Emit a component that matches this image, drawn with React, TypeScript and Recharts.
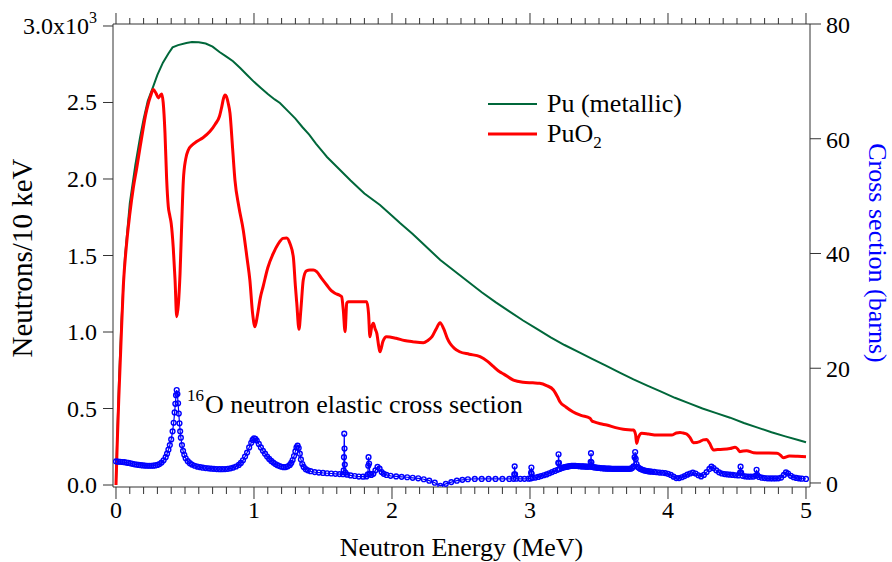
import { ComposedChart, Line, XAxis, YAxis, Legend, ReferenceDot, Label } from 'recharts'

const GREEN = '#00673a'
const RED = '#ff0000'
const BLUE = '#0000ff'
const AXIS = '#333'
const FONT = '"Liberation Serif", "Times New Roman", serif'

// Pu (metallic) spectrum, [MeV, neutrons / 10 keV]
const metallic: [number, number][] = [
  [0, 30], [0.01, 350], [0.022, 690], [0.04, 1080], [0.065, 1490], [0.1, 1840], [0.14, 2090],
  [0.174, 2270], [0.2, 2390], [0.23, 2510], [0.268, 2600], [0.3, 2680], [0.34, 2760], [0.38, 2820],
  [0.41, 2860], [0.45, 2875], [0.51, 2889], [0.55, 2895], [0.6, 2893], [0.65, 2885], [0.7, 2865],
  [0.75, 2830], [0.8, 2800], [0.848, 2770], [0.9, 2725], [0.95, 2680], [1.0, 2635], [1.05, 2595],
  [1.1, 2555], [1.15, 2520], [1.188, 2497], [1.25, 2440], [1.3, 2395], [1.35, 2340], [1.4, 2290],
  [1.45, 2230], [1.5, 2175], [1.529, 2144], [1.6, 2080], [1.7, 1990], [1.8, 1905], [1.913, 1830],
  [2.0, 1760], [2.058, 1712], [2.15, 1640], [2.25, 1555], [2.35, 1471], [2.45, 1400], [2.55, 1330],
  [2.65, 1260], [2.75, 1195], [2.85, 1135], [2.95, 1075], [3.05, 1020], [3.15, 965], [3.25, 915],
  [3.35, 870], [3.45, 825], [3.55, 780], [3.65, 735], [3.75, 690], [3.85, 650], [3.95, 610],
  [4.05, 570], [4.15, 535], [4.25, 500], [4.35, 470], [4.45, 440], [4.55, 405], [4.65, 375],
  [4.75, 345], [4.85, 318], [4.95, 292], [5.0, 280],
]

// PuO2 spectrum
const oxide: [number, number][] = [
  [0, 0], [0.01, 300], [0.02, 560], [0.035, 900], [0.053, 1300], [0.075, 1560], [0.1, 1770],
  [0.125, 1940], [0.15, 2070], [0.175, 2210], [0.197, 2330], [0.215, 2420], [0.233, 2490],
  [0.25, 2540], [0.27, 2585], [0.29, 2560], [0.307, 2530], [0.32, 2545], [0.331, 2556],
  [0.342, 2500], [0.355, 2300], [0.367, 2000], [0.379, 1820], [0.39, 1760], [0.4, 1710],
  [0.415, 1550], [0.428, 1340], [0.44, 1100], [0.452, 1180], [0.464, 1380], [0.476, 1700],
  [0.488, 1990], [0.505, 2130], [0.524, 2190], [0.55, 2220], [0.585, 2245], [0.63, 2270],
  [0.68, 2310], [0.72, 2360], [0.75, 2410], [0.766, 2470], [0.78, 2530], [0.79, 2549],
  [0.8, 2540], [0.812, 2500], [0.826, 2430], [0.845, 2200], [0.862, 1993], [0.89, 1820],
  [0.922, 1667], [0.95, 1480], [0.97, 1340], [0.99, 1120], [1.007, 1035], [1.025, 1110],
  [1.045, 1220], [1.067, 1300], [1.1, 1420], [1.14, 1514], [1.175, 1575], [1.21, 1612],
  [1.237, 1615], [1.26, 1580], [1.285, 1490], [1.3, 1300], [1.31, 1188], [1.326, 1018],
  [1.34, 1150], [1.357, 1340], [1.38, 1400], [1.405, 1405], [1.43, 1405], [1.454, 1394],
  [1.49, 1350], [1.527, 1307], [1.56, 1270], [1.587, 1253], [1.62, 1240], [1.635, 1231],
  [1.647, 1144], [1.66, 1002], [1.672, 1188], [1.683, 1198], [1.75, 1198], [1.817, 1198],
  [1.83, 1122], [1.84, 969], [1.852, 1030], [1.865, 1057], [1.878, 1020], [1.89, 991],
  [1.905, 900], [1.913, 871], [1.935, 940], [1.96, 969], [2.03, 959], [2.09, 945], [2.15, 937],
  [2.227, 930], [2.26, 945], [2.29, 969], [2.32, 1020], [2.348, 1061], [2.375, 1020], [2.4, 960],
  [2.42, 926], [2.45, 895], [2.49, 871], [2.56, 855], [2.638, 839], [2.69, 810], [2.734, 775],
  [2.78, 740], [2.81, 725], [2.88, 686], [2.95, 672], [3.02, 668], [3.07, 665], [3.12, 650],
  [3.17, 621], [3.2, 575], [3.217, 544], [3.26, 510], [3.31, 479], [3.37, 455], [3.435, 436],
  [3.45, 418], [3.46, 414], [3.51, 400], [3.556, 392], [3.62, 375], [3.676, 364], [3.75, 359],
  [3.765, 330], [3.773, 272], [3.785, 310], [3.81, 338], [3.86, 333], [3.918, 327], [3.97, 327],
  [4.026, 327], [4.06, 340], [4.087, 344], [4.11, 340], [4.135, 333], [4.16, 310], [4.183, 277],
  [4.21, 278], [4.23, 283], [4.255, 295], [4.28, 298], [4.3, 275], [4.33, 229], [4.36, 232],
  [4.4, 233], [4.45, 238], [4.486, 246], [4.505, 235], [4.52, 218], [4.545, 222], [4.57, 224],
  [4.62, 211], [4.7, 209], [4.79, 207], [4.815, 195], [4.836, 178], [4.88, 190], [4.94, 188],
  [5.0, 185],
]

// 16O elastic cross section, [MeV, barns]
const oxygen: [number, number][] = [
  [0, 3.75], [0.015, 3.72], [0.03, 3.7], [0.045, 3.66], [0.06, 3.62], [0.075, 3.56], [0.09, 3.5],
  [0.105, 3.42], [0.12, 3.34], [0.135, 3.26], [0.15, 3.2], [0.165, 3.14], [0.18, 3.1], [0.195, 3.06],
  [0.21, 3.03], [0.225, 3.0], [0.24, 3.0], [0.255, 3.0], [0.27, 3.02], [0.285, 3.06], [0.3, 3.15],
  [0.315, 3.3], [0.33, 3.55], [0.345, 3.95], [0.36, 4.5], [0.37, 5.1], [0.38, 5.8], [0.39, 6.6],
  [0.4, 7.6], [0.41, 9.0], [0.418, 10.5], [0.425, 12.3], [0.43, 13.8], [0.435, 15.3], [0.44, 16.2],
  [0.445, 15.5], [0.45, 13.9], [0.455, 12.1], [0.46, 10.4], [0.465, 9.0], [0.47, 7.9], [0.478, 6.6],
  [0.486, 5.6], [0.495, 4.9], [0.505, 4.3], [0.52, 3.8], [0.535, 3.45], [0.55, 3.2], [0.57, 3.0],
  [0.59, 2.85], [0.61, 2.75], [0.63, 2.66], [0.65, 2.6], [0.67, 2.55], [0.69, 2.5], [0.71, 2.46],
  [0.73, 2.43], [0.75, 2.4], [0.77, 2.4], [0.79, 2.42], [0.81, 2.47], [0.83, 2.55], [0.85, 2.68],
  [0.87, 2.87], [0.89, 3.15], [0.905, 3.5], [0.92, 3.95], [0.935, 4.6], [0.95, 5.3], [0.965, 6.2],
  [0.98, 7.0], [0.99, 7.5], [1.0, 7.8], [1.01, 7.7], [1.02, 7.4], [1.035, 6.8], [1.05, 6.2],
  [1.065, 5.6], [1.08, 5.1], [1.095, 4.6], [1.11, 4.2], [1.125, 3.85], [1.14, 3.55], [1.155, 3.3],
  [1.17, 3.1], [1.185, 2.95], [1.2, 2.83], [1.215, 2.76], [1.23, 2.78], [1.245, 2.9], [1.26, 3.15],
  [1.27, 3.5], [1.28, 4.0], [1.29, 4.7], [1.3, 5.5], [1.308, 6.2], [1.316, 6.5], [1.324, 6.1],
  [1.332, 5.1], [1.34, 4.1], [1.35, 3.3], [1.36, 2.8], [1.375, 2.4], [1.39, 2.2], [1.41, 2.05],
  [1.44, 1.9], [1.47, 1.82], [1.5, 1.75], [1.53, 1.7], [1.56, 1.65], [1.59, 1.6], [1.62, 1.55],
  [1.645, 1.52], [1.65, 2.2], [1.652, 4.5], [1.654, 8.6], [1.656, 6.0], [1.658, 3.2], [1.662, 1.8],
  [1.675, 1.45], [1.7, 1.32], [1.73, 1.22], [1.76, 1.12], [1.79, 1.1], [1.815, 1.15], [1.825, 1.5],
  [1.828, 3.0], [1.83, 4.5], [1.834, 3.4], [1.84, 1.6], [1.85, 1.4], [1.865, 1.6], [1.88, 2.2],
  [1.895, 2.8], [1.91, 2.5], [1.925, 1.9], [1.94, 1.6], [1.96, 1.4], [1.99, 1.25], [2.03, 1.15],
  [2.07, 1.07], [2.11, 1.0], [2.15, 0.9], [2.19, 0.82], [2.23, 0.65], [2.27, 0.4], [2.31, 0.05],
  [2.35, -0.5], [2.39, -0.15], [2.43, 0.15], [2.47, 0.4], [2.51, 0.55], [2.55, 0.65], [2.6, 0.7],
  [2.65, 0.7], [2.7, 0.7], [2.75, 0.7], [2.8, 0.7], [2.85, 0.7], [2.88, 0.72], [2.886, 1.5],
  [2.889, 2.9], [2.892, 1.5], [2.9, 0.75], [2.93, 0.72], [2.96, 0.72], [2.99, 0.75], [3.005, 0.8],
  [3.008, 1.8], [3.01, 2.7], [3.012, 1.6], [3.02, 0.9], [3.04, 0.95], [3.06, 1.05], [3.08, 1.2],
  [3.1, 1.35], [3.12, 1.5], [3.14, 1.7], [3.16, 1.9], [3.18, 2.1], [3.2, 2.3], [3.205, 3.5],
  [3.207, 5.0], [3.21, 3.5], [3.215, 2.45], [3.23, 2.6], [3.24, 2.68], [3.25, 2.75], [3.26, 2.8],
  [3.27, 2.85], [3.28, 2.9], [3.29, 2.95], [3.3, 2.98], [3.31, 3.0], [3.32, 2.99], [3.33, 2.98],
  [3.34, 2.96], [3.35, 2.95], [3.36, 2.92], [3.37, 2.9], [3.38, 2.89], [3.39, 2.88], [3.4, 2.86],
  [3.41, 2.85], [3.42, 2.84], [3.43, 2.83], [3.44, 3.7], [3.442, 5.2], [3.445, 3.6], [3.45, 2.8],
  [3.46, 2.76], [3.47, 2.72], [3.48, 2.68], [3.49, 2.65], [3.5, 2.62], [3.51, 2.6], [3.52, 2.57],
  [3.53, 2.55], [3.54, 2.53], [3.55, 2.52], [3.56, 2.51], [3.57, 2.5], [3.58, 2.49], [3.59, 2.48],
  [3.6, 2.47], [3.61, 2.46], [3.62, 2.45], [3.63, 2.45], [3.64, 2.45], [3.65, 2.45], [3.66, 2.45],
  [3.67, 2.45], [3.68, 2.45], [3.69, 2.45], [3.7, 2.45], [3.71, 2.46], [3.72, 2.47], [3.73, 2.5],
  [3.74, 2.6], [3.75, 2.9], [3.758, 4.5], [3.762, 5.4], [3.766, 4.2], [3.772, 3.3], [3.78, 2.8],
  [3.79, 2.6], [3.8, 2.45], [3.81, 2.35], [3.82, 2.25], [3.83, 2.18], [3.84, 2.12], [3.85, 2.07],
  [3.86, 2.03], [3.87, 2.0], [3.88, 1.97], [3.9, 1.92], [3.92, 1.87], [3.94, 1.82], [3.96, 1.78],
  [3.98, 1.72], [4.0, 1.6], [4.02, 1.4], [4.04, 1.1], [4.06, 0.85], [4.08, 0.85], [4.1, 1.0],
  [4.12, 1.2], [4.14, 1.45], [4.16, 1.65], [4.18, 1.8], [4.2, 1.65], [4.22, 1.35], [4.24, 1.15],
  [4.26, 1.4], [4.28, 1.9], [4.3, 2.45], [4.315, 2.85], [4.33, 2.6], [4.35, 2.2], [4.37, 1.85],
  [4.39, 1.65], [4.41, 1.55], [4.43, 1.5], [4.45, 1.45], [4.47, 1.4], [4.49, 1.35], [4.51, 1.32],
  [4.522, 1.8], [4.526, 2.85], [4.53, 1.8], [4.54, 1.25], [4.56, 1.15], [4.58, 1.1], [4.6, 1.1],
  [4.62, 1.12], [4.638, 1.3], [4.642, 2.3], [4.646, 1.4], [4.66, 1.05], [4.68, 0.92], [4.7, 0.85],
  [4.72, 0.82], [4.74, 0.8], [4.76, 0.8], [4.78, 0.8], [4.8, 0.82], [4.82, 0.95], [4.84, 1.4],
  [4.855, 1.85], [4.87, 1.65], [4.89, 1.25], [4.91, 1.0], [4.93, 0.88], [4.95, 0.8], [4.97, 0.75],
  [5.0, 0.7],
]

const countTicks = [0, 500, 1000, 1500, 2000, 2500, 3000]
const sigmaTicks = [0, 20, 40, 60, 80]

// minor ticks every 0.1 MeV, labelled at whole MeV
const energyTicks: number[] = []
for (let i = 0; i <= 50; i++) energyTicks.push(i / 10)

const toRows = (pts: [number, number][]) => pts.map(([e, v]) => ({ e, v }))
const metallicRows = toRows(metallic)
const oxideRows = toRows(oxide)
const oxygenRows = toRows(oxygen)

const isMajor = (v: number) => Math.abs(v - Math.round(v)) < 1e-6

function BottomTick({ x, y, payload }: any) {
  const major = isMajor(payload.value)
  return (
    <g>
      <line x1={x} x2={x} y1={y} y2={y + (major ? 12 : 7)} stroke={AXIS} />
      {major && (
        <text x={x} y={y + 31} textAnchor="middle" fontSize={24} fontFamily={FONT} fill="#000">
          {Math.round(payload.value)}
        </text>
      )}
    </g>
  )
}

function TopTick({ x, y, payload }: any) {
  const major = isMajor(payload.value)
  return <line x1={x} x2={x} y1={y} y2={y - (major ? 11 : 6)} stroke={AXIS} />
}

function LeftTick({ x, y, payload }: any) {
  const v = payload.value as number
  return (
    <g>
      <line x1={x - 10} x2={x} y1={y} y2={y} stroke={AXIS} />
      <text x={x - 16} y={y + 8} textAnchor="end" fontSize={24} fontFamily={FONT} fill="#000">
        {v === 3000 ? (
          <>
            3.0x10<tspan dy={-11} fontSize={16}>3</tspan>
          </>
        ) : (
          (v / 1000).toFixed(1)
        )}
      </text>
    </g>
  )
}

function RightTick({ x, y, payload }: any) {
  return (
    <g>
      <line x1={x} x2={x + 11} y1={y} y2={y} stroke={AXIS} />
      <text x={x + 16} y={y + 9} textAnchor="start" fontSize={24} fontFamily={FONT} fill="#000">
        {payload.value}
      </text>
    </g>
  )
}

const renderLegend = () => (
  <svg width={230} height={64} style={{ display: 'block' }}>
    <line x1={8} x2={57} y1={15} y2={15} stroke={GREEN} strokeWidth={2} />
    <text x={67} y={23} fontSize={26} fontFamily={FONT}>Pu (metallic)</text>
    <line x1={8} x2={57} y1={45} y2={45} stroke={RED} strokeWidth={3} />
    <text x={67} y={53} fontSize={26} fontFamily={FONT}>
      PuO<tspan dy={6} fontSize={17}>2</tspan>
    </text>
  </svg>
)

const renderNote = ({ viewBox }: any) => (
  <text x={viewBox.x} y={viewBox.y} fontSize={26} fontFamily={FONT} fill="#000">
    <tspan x={viewBox.x - 18} dy={-12} fontSize={17}>16</tspan>
    <tspan x={viewBox.x} dy={12}>O neutron elastic cross section</tspan>
  </text>
)

export default function App() {
  return (
    <div style={{ position: 'absolute', left: 0, top: 0, background: '#fff' }}>
      <ComposedChart width={892} height={562} margin={{ top: 10, right: 22, bottom: 25, left: 33 }}>
        <XAxis
          dataKey="e"
          type="number"
          domain={[-0.0217, 5.029]}
          allowDataOverflow
          ticks={energyTicks}
          interval={0}
          height={50}
          stroke={AXIS}
          tickLine={false}
          tickSize={0}
          tickMargin={0}
          tick={<BottomTick />}
        >
          <Label
            content={({ viewBox }: any) => (
              <text x={viewBox.x + viewBox.width / 2} y={556} textAnchor="middle" fontSize={26} fontFamily={FONT}>
                Neutron Energy (MeV)
              </text>
            )}
          />
        </XAxis>
        <XAxis
          xAxisId="top"
          orientation="top"
          type="number"
          dataKey="e"
          domain={[-0.0217, 5.029]}
          allowDataOverflow
          ticks={energyTicks}
          interval={0}
          height={14}
          stroke={AXIS}
          tickLine={false}
          tickSize={0}
          tickMargin={0}
          tick={<TopTick />}
        />
        <YAxis
          yAxisId="left"
          type="number"
          domain={[-13, 3013]}
          allowDataOverflow
          ticks={countTicks}
          interval={0}
          width={80}
          stroke={AXIS}
          tickLine={false}
          tickSize={0}
          tickMargin={0}
          tick={<LeftTick />}
        >
          <Label
            content={() => (
              <text x={25} y={258} transform="rotate(-90 25 258)" textAnchor="middle" dominantBaseline="middle" fontSize={29} fontFamily={FONT}>
                Neutrons/10 keV
              </text>
            )}
          />
        </YAxis>
        <YAxis
          yAxisId="right"
          orientation="right"
          type="number"
          domain={[-0.7, 80]}
          allowDataOverflow
          ticks={sigmaTicks}
          interval={0}
          width={60}
          stroke={AXIS}
          tickLine={false}
          tickSize={0}
          tickMargin={0}
          tick={<RightTick />}
        >
          <Label
            content={() => (
              <text x={875} y={253} transform="rotate(90 875 253)" textAnchor="middle" dominantBaseline="middle" fontSize={26} fontFamily={FONT} fill={BLUE}>
                Cross section (barns)
              </text>
            )}
          />
        </YAxis>

        <Line
          yAxisId="right"
          data={oxygenRows}
          dataKey="v"
          type="linear"
          stroke={BLUE}
          strokeWidth={1.2}
          dot={{ r: 2.4, stroke: BLUE, strokeWidth: 1.4, fill: 'none' }}
          activeDot={false}
          isAnimationActive={false}
        />
        <Line
          yAxisId="left"
          data={metallicRows}
          dataKey="v"
          type="linear"
          stroke={GREEN}
          strokeWidth={2}
          dot={false}
          activeDot={false}
          isAnimationActive={false}
        />
        <Line
          yAxisId="left"
          data={oxideRows}
          dataKey="v"
          type="monotone"
          stroke={RED}
          strokeWidth={3}
          dot={false}
          activeDot={false}
          isAnimationActive={false}
        />

        <ReferenceDot yAxisId="right" x={0.645} y={12.2} r={0} stroke="none" fill="none" label={renderNote} />

        <Legend
          layout="vertical"
          align="center"
          verticalAlign="middle"
          wrapperStyle={{ left: 480, top: 89, width: 230 }}
          content={renderLegend}
        />
      </ComposedChart>
    </div>
  )
}
